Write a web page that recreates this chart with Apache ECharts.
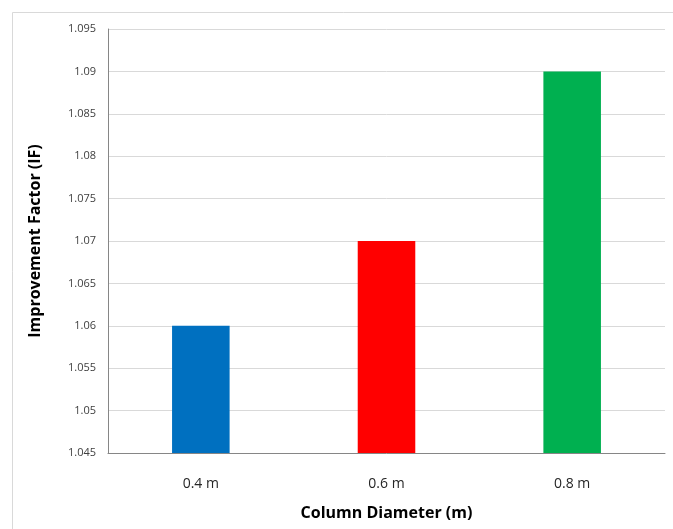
<!DOCTYPE html>
<html>
<head>
<meta charset="utf-8">
<script src="https://cdn.jsdelivr.net/npm/echarts@6/dist/echarts.min.js"></script>
<style>
  html, body { margin: 0; padding: 0; background: #fff; }
  #chart { width: 673px; height: 529px; }
</style>
</head>
<body>
<div id="chart"></div>
<script>
// data
const diameters = ['0.4 m', '0.6 m', '0.8 m']
const improvementFactor = [1.06, 1.07, 1.09]
const barColors = ['#0070C0', '#FF0000', '#00B050']

const chart = echarts.init(document.getElementById('chart'), null, { renderer: 'canvas' })

const option = {
  animation: false,
  backgroundColor: '#fff',
  graphic: [{
    type: 'rect',
    shape: { x: 12.5, y: 12.5, width: 700, height: 600 },
    style: { fill: 'none', stroke: '#d9d9d9', lineWidth: 1 },
    silent: true
  }],
  grid: { left: 108, right: 8, top: 29, bottom: 76 },
  xAxis: {
    type: 'category',
    data: diameters,
    name: 'Column Diameter (m)',
    nameLocation: 'middle',
    nameGap: 52,
    nameTextStyle: { fontFamily: 'Open Sans', fontWeight: 'bold', fontSize: 16, color: '#000' },
    axisLine: { lineStyle: { color: '#868686' } },
    axisTick: { show: false },
    axisLabel: { fontFamily: 'Open Sans', fontSize: 14, color: '#262626', margin: 24 }
  },
  yAxis: {
    type: 'value',
    min: 1.045,
    max: 1.095,
    interval: 0.005,
    name: 'Improvement Factor (IF)',
    nameLocation: 'middle',
    nameGap: 65,
    nameTextStyle: { fontFamily: 'Open Sans', fontWeight: 'bold', fontSize: 16, color: '#000' },
    axisLine: { show: true, lineStyle: { color: '#868686' } },
    axisTick: { show: false },
    splitLine: { lineStyle: { color: '#d9d9d9' } },
    axisLabel: {
      fontFamily: 'Open Sans',
      fontSize: 11,
      color: '#404040',
      margin: 12,
      formatter: v => String(parseFloat(v.toFixed(3)))
    }
  },
  series: [{
    type: 'bar',
    barWidth: '31%',
    data: improvementFactor.map((v, i) => ({ value: v, itemStyle: { color: barColors[i] } }))
  }]
}

chart.setOption(option)
</script>
</body>
</html>
